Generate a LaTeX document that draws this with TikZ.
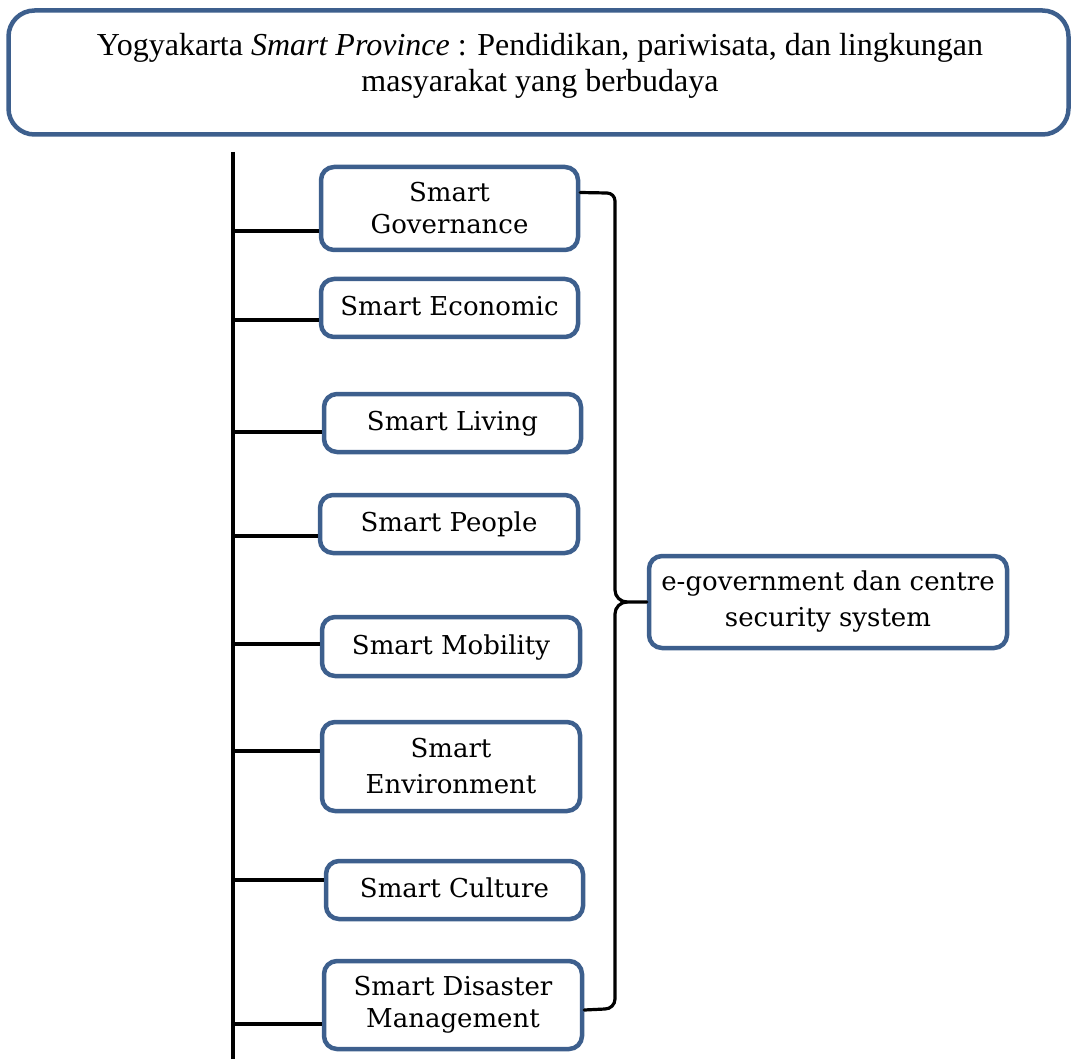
\documentclass[tikz,border=0pt]{standalone}
\usepackage{fontspec}
\setmainfont{DejaVu Serif}
\newfontfamily\headfont{Liberation Serif}
\usetikzlibrary{calc}
\definecolor{frameblue}{RGB}{61,95,141}
\tikzset{
  item/.style={draw=frameblue, line width=4.5pt, rounded corners=13pt, fill=white,
    align=center, inner sep=0pt, font=\fontsize{26}{32}\selectfont},
  wide/.style={font=\fontsize{26}{36}\selectfont},
  link/.style={line width=3.2pt, black},
  brace/.style={line width=3.2pt, black, line cap=round}
}
\begin{document}
\begin{tikzpicture}[x=1pt,y=-1pt]
\useasboundingbox (0,0) rectangle (1071,1059);
% heading
\node[item, rounded corners=26pt, minimum width=1060pt, minimum height=124pt] (head) at (538.5,72.5) {};
\node[align=center, inner sep=0pt, font=\headfont\fontsize{32}{36}\selectfont] (headtext) at (540,66)
  {Yogyakarta \textit{Smart Province} : Pendidikan, pariwisata, dan lingkungan\\
   masyarakat yang berbudaya};
% spine
\coordinate (top) at (233,152);
\coordinate (bot) at (233,1059);
\draw[link] (top) -- (bot);
% items
\node[item, minimum width=257pt, minimum height=83pt] (gov) at (449.5,208.5) {Smart\\Governance};
\node[item, minimum width=257pt, minimum height=58pt, text depth=4pt] (eco) at (449.5,308) {Smart Economic};
\node[item, minimum width=257pt, minimum height=58pt, text depth=4pt] (liv) at (452.5,423) {Smart Living};
\node[item, minimum width=258pt, minimum height=58pt, text depth=4pt] (peo) at (449,524) {Smart People};
\node[item, minimum width=258pt, minimum height=59pt, text depth=4pt] (mob) at (451,646.5) {Smart Mobility};
\node[item, wide, minimum width=258pt, minimum height=89pt] (env) at (451,766.5) {Smart\\Environment};
\node[item, minimum width=257pt, minimum height=58pt, text depth=4pt] (cul) at (454.5,890) {Smart Culture};
\node[item, minimum width=258pt, minimum height=88pt] (dis) at (453,1005) {Smart Disaster\\Management};
\node[item, wide, minimum width=358pt, minimum height=92pt] (egov) at (828,602) {e-government dan centre\\security system};
% branches from the spine
\foreach \n/\y in {gov/231, eco/320, liv/432, peo/536, mob/644, env/751, cul/880, dis/1024}{
  \coordinate (j-\n) at (233,\y);
  \draw[link] (j-\n) -- (j-\n -| \n.west);
}
% brace grouping all items
\coordinate (btop) at ($(gov.east)+(0,-16)$);
\coordinate (bbot) at ($(dis.east)+(0,5)$);
\coordinate (mid) at (627,602);
\coordinate (tip) at (mid -| egov.west);
\draw[brace] (btop) -- (607,193) to[out=0,in=90] (615,201) -- (615,590)
  to[out=-90,in=180] (mid) -- (tip);
\draw[brace] (bbot) -- (605,1009) to[out=0,in=-90] (615,999) -- (615,614)
  to[out=90,in=180] (mid);
\end{tikzpicture}
\end{document}
